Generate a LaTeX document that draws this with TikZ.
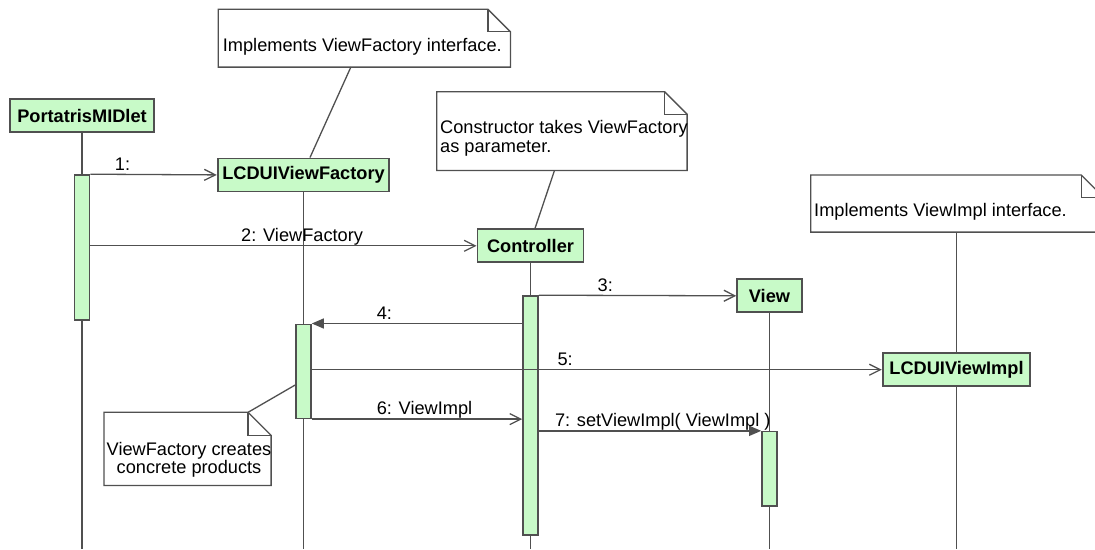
\documentclass[tikz,border=0pt]{standalone}
\usepackage{fontspec}
\setmainfont{Liberation Sans}
\usetikzlibrary{arrows.meta}

\definecolor{objfill}{RGB}{200,250,200}
\definecolor{ink}{RGB}{80,80,80}

\newcommand\diagfont{\fontsize{18.2}{19.4}\selectfont}

% outline of a UML note with a folded top-right corner
\newcommand\foldednote[2]{%
  \draw[notedraw] (#1.north west) -- ([xshift=-#2]#1.north east)
    -- ([yshift=-#2]#1.north east) -- (#1.south east) -- (#1.south west) -- cycle;
  \draw[notedraw] ([xshift=-#2]#1.north east) |- ([yshift=-#2]#1.north east);}

\tikzset{
  obj/.style={draw=ink, line width=1.8pt, fill=objfill, inner sep=0pt,
    minimum height=33pt, font=\diagfont\bfseries},
  actbar/.style={draw=ink, line width=1.6pt, fill=objfill, inner sep=0pt,
    minimum width=15pt},
  life/.style={draw=ink, line width=1.3pt},
  link/.style={draw=ink, line width=1.3pt},
  msg/.style={draw=ink, line width=1.3pt,
    -{Straight Barb[length=11pt,width=11pt,line width=1.3pt]}},
  call/.style={draw=ink, line width=1.3pt, -{Triangle[length=12pt,width=10pt]}},
  lbl/.style={anchor=base west, inner sep=0pt, yshift=4.3pt},
  noteshape/.style={draw=none, fill=white, inner sep=0pt, anchor=north west},
  notedraw/.style={draw=ink, line width=1.3pt},
  notetext/.style={inner sep=0pt},
}

\begin{document}
\begin{tikzpicture}[x=1pt, y=-1pt, font=\diagfont]
  \useasboundingbox (0,0) rectangle (1095,549);
  \fill[white] (0,0) rectangle (1095,549);
  \clip (0,0) rectangle (1095,549);
  \coordinate (bot) at (0,549);

  % notes (multi-line texts are placed by the baseline of their last line)
  \node[noteshape, minimum width=291.7pt, minimum height=57.4pt] (n1) at (218.3,9.3) {};
  \foldednote{n1}{22.5pt}
  \node[notetext, anchor=base west] (n1t) at ([xshift=4.4pt,yshift=-42.4pt]n1.north west)
    {Implements ViewFactory interface.};

  \node[noteshape, minimum width=250pt, minimum height=78.3pt] (n2) at (436.7,91.7) {};
  \foldednote{n2}{22.5pt}
  \node[notetext, anchor=base west, align=left] (n2t) at (440,152.7)
    {Constructor takes ViewFactory\\as parameter.};

  \node[noteshape, minimum width=292.7pt, minimum height=56.7pt] (n3) at (810.7,175) {};
  \foldednote{n3}{22.5pt}
  \node[notetext, anchor=base west] (n3t) at (814,216)
    {Implements ViewImpl interface.};

  % objects
  \node[obj, minimum width=144pt]   (pm)   at (82,115.5)    {PortatrisMIDlet};
  \node[obj, minimum width=171.7pt] (lvf)  at (303.5,174.9) {LCDUIViewFactory};
  \node[obj, minimum width=106pt]   (ctrl) at (530.5,245.8) {Controller};
  \node[obj, minimum width=64.6pt]  (view) at (769.5,295.8) {View};
  \node[obj, minimum width=147.7pt] (lvi)  at (956.5,369.7) {LCDUIViewImpl};

  % lifelines
  \foreach \o in {pm,lvf,ctrl,view,lvi}
    \draw[life] (\o.south) -- (\o.south |- bot);

  % activation bars
  \node[actbar, minimum height=145pt]  (a1) at (82,247.5)    {};
  \node[actbar, minimum height=94pt]   (a2) at (303.5,371.3) {};
  \node[actbar, minimum height=239pt]  (a3) at (530.5,415.5) {};
  \node[actbar, minimum height=74.3pt] (a4) at (769.5,468.8) {};

  % messages
  \draw[msg] (a1.north east) -- node[lbl, pos=.19] (m1) {1:} (lvf.west);
  \draw[msg] (ctrl.west -| a1.east) -- node[lbl, pos=.389] (m2) {2: ViewFactory} (ctrl.west);
  \draw[msg] (a3.north east) -- node[lbl, pos=.295] (m3) {3:} (view.west);
  \draw[call] (a2.north east -| a3.west) -- node[lbl, pos=.694] (m4) {4:} (a2.north east);
  \draw[msg] (lvi.west -| a2.east) -- node[lbl, pos=.43] (m5) {5:} (lvi.west);
  \draw[msg] (a2.south east) -- node[lbl, pos=.306] (m6) {6: ViewImpl} (a2.south east -| a3.west);
  \draw[call] (a4.north west -| a3.east) -- node[lbl, pos=.07] (m7) {7: setViewImpl( ViewImpl )} (a4.north west);

  % note on the factory's activation
  \node[noteshape, minimum width=166.7pt, minimum height=72.7pt] (n4) at (104,412.3) {};
  \foldednote{n4}{23pt}
  \node[notetext, anchor=base, align=center, font=\fontsize{18.2}{18.3}\selectfont] (n4t) at (189,473.3)
    {ViewFactory creates\\concrete products};

  % note anchors
  \draw[link] ([xshift=-13.5pt]n1.south) -- ([xshift=6.5pt]lvf.north);
  \draw[link] ([xshift=-7.4pt]n2.south) -- ([xshift=4.5pt]ctrl.north);
  \draw[link] (lvi.north |- n3.south) -- (lvi.north);
  \draw[link] ([xshift=-23pt]n4.north east) -- ([yshift=-13.7pt]a2.west);
\end{tikzpicture}
\end{document}
